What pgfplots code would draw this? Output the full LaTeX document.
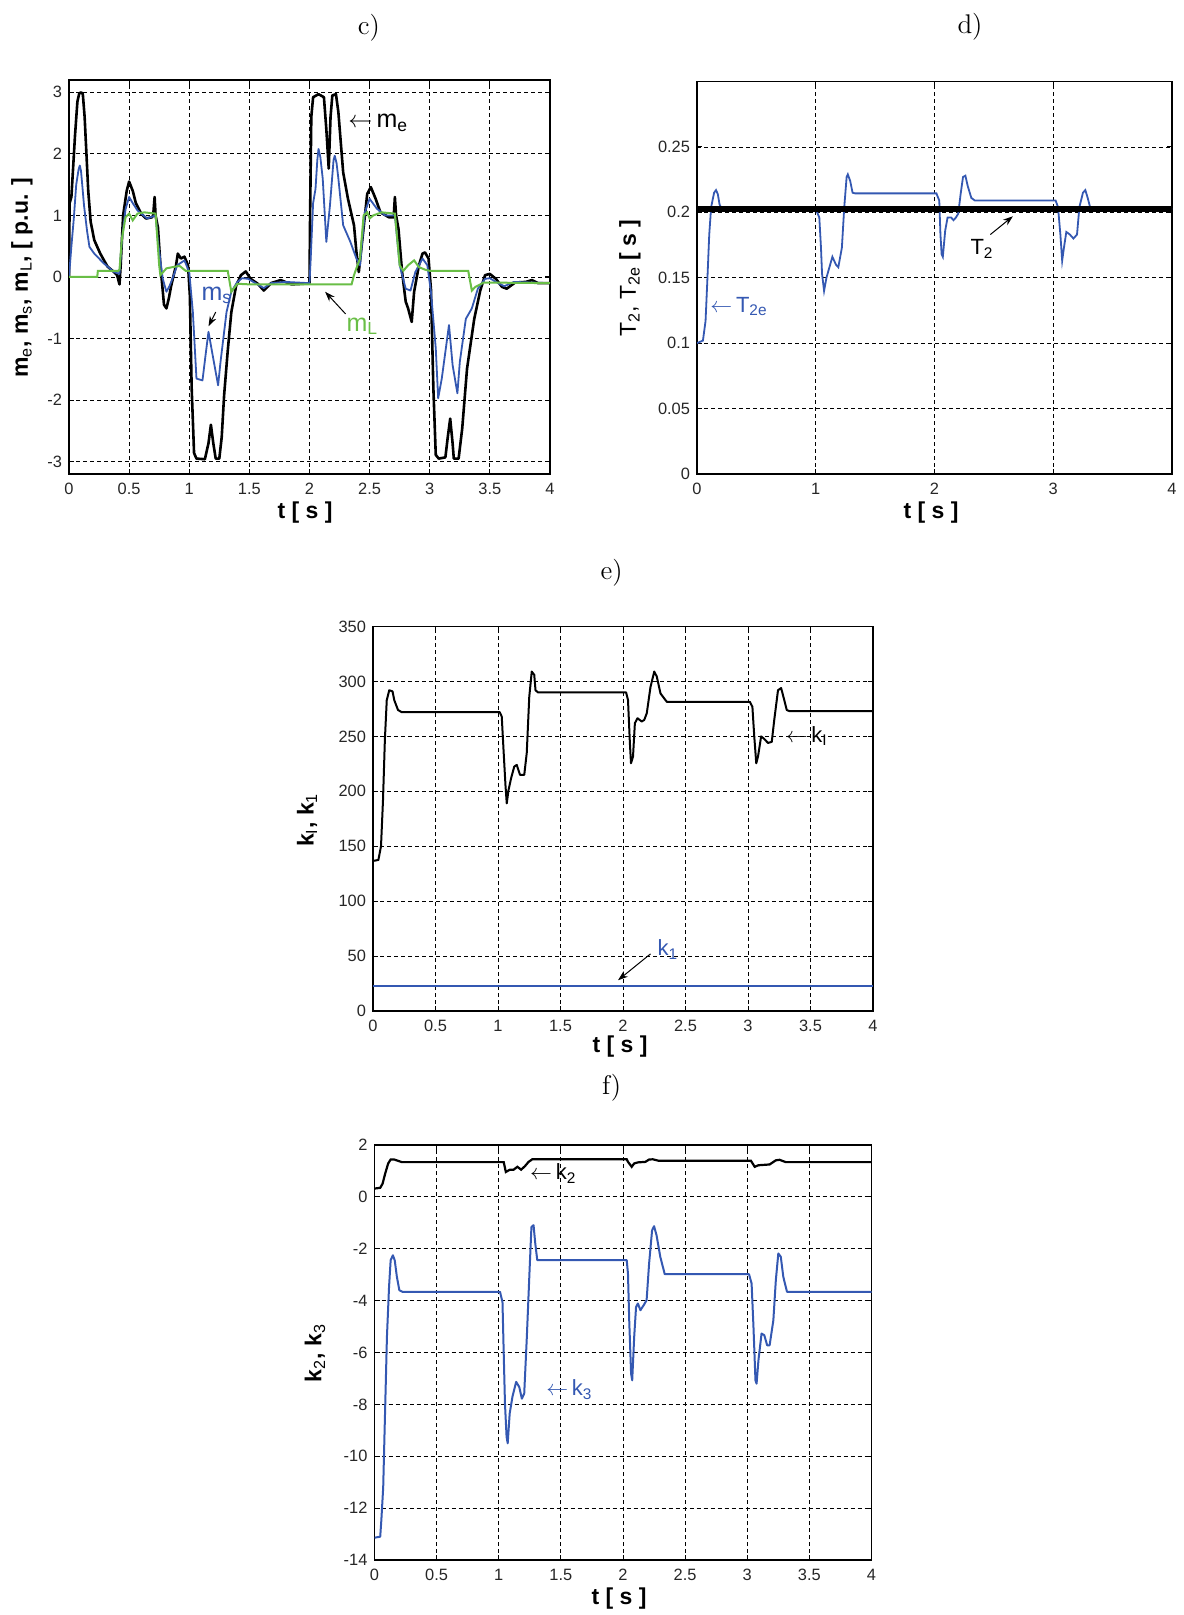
\documentclass[border=0pt]{standalone}
\usepackage{fontspec}
\setsansfont{Liberation Sans}
\usepackage{pgfplots}
\pgfplotsset{compat=1.18}
\usetikzlibrary{arrows.meta}
\definecolor{mblue}{RGB}{52,88,178}
\definecolor{mgreen}{RGB}{105,190,70}
\newcommand\tickfont{\sffamily\fontsize{8.2}{9}\selectfont}
\newcommand\labfont{\sffamily\bfseries\fontsize{11.5}{13}\selectfont}
\newcommand\annfont{\sffamily\fontsize{11}{12}\selectfont}
\newcommand\annfontc{\sffamily\fontsize{12.5}{13}\selectfont}
\newcommand\sub[1]{\textsubscript{\mdseries #1}}
\pgfplotsset{
  mat/.style={
    scale only axis, anchor=north west,
    xmin=0, xmax=4,
    grid=major,
    major grid style={black, dash pattern=on 2pt off 1.5pt, line width=0.4pt},
    axis line style={black, line width=0.6pt},
    tick style={black, line width=0.5pt},
    major tick length=2.5pt,
    ticklabel style={font=\tickfont, text=black!85},
    xticklabel style={yshift=-1pt},
    clip=true,
    axis background/.style={fill=white},
  }
}
\begin{document}
\begin{tikzpicture}
\path[use as bounding box] (0,0) rectangle (591.5pt,-807.5pt);

% ---------------- c) ----------------
\begin{axis}[mat, at={(34.5pt,-40pt)}, width=240.5pt, height=197pt,
  ymin=-3.2, ymax=3.2,
  xtick={0,0.5,1,1.5,2,2.5,3,3.5,4},
  xticklabels={0,0.5,1,1.5,2,2.5,3,3.5,4},
  ytick={-3,-2,-1,0,1,2,3},
  yticklabels={-3,-2,-1,0,1,2,3}]
\addplot[black, line width=1.3pt, line join=round] coordinates {
(0,0) (0.005,1.2) (0.02,1.3) (0.05,2.3) (0.07,2.85) (0.085,2.98) (0.1,3.0) (0.115,2.97) (0.13,2.6) (0.14,2.2) (0.16,1.4) (0.18,0.9) (0.21,0.6) (0.26,0.38) (0.32,0.17) (0.375,0.08) (0.40,0.03) (0.42,-0.12) (0.43,0.2) (0.45,1.0) (0.48,1.4) (0.50,1.55) (0.53,1.4) (0.556,1.2) (0.6,1.03) (0.64,0.95) (0.69,0.97) (0.70,1.0) (0.712,1.3) (0.72,1.0) (0.74,0.8) (0.76,0.2) (0.79,-0.45) (0.81,-0.51) (0.83,-0.35) (0.85,-0.14) (0.89,0.19) (0.905,0.38) (0.93,0.3) (0.96,0.33) (0.99,0.19) (1.005,-0.3) (1.02,-1.8) (1.04,-2.86) (1.06,-2.95) (1.13,-2.96) (1.16,-2.7) (1.18,-2.4) (1.20,-2.7) (1.22,-2.95) (1.25,-2.95) (1.27,-2.6) (1.29,-1.92) (1.32,-1.2) (1.35,-0.57) (1.39,-0.14) (1.43,0.03) (1.47,0.09) (1.51,-0.03) (1.57,-0.11) (1.62,-0.22) (1.68,-0.1) (1.76,-0.05) (1.85,-0.12) (1.95,-0.11) (2.0,-0.1) (2.005,1.0) (2.015,2.6) (2.03,2.92) (2.075,2.97) (2.12,2.92) (2.14,2.4) (2.16,1.76) (2.175,2.6) (2.19,2.95) (2.22,2.97) (2.24,2.68) (2.28,1.7) (2.32,1.27) (2.37,0.84) (2.39,0.41) (2.41,0.08) (2.44,0.62) (2.48,1.35) (2.51,1.46) (2.55,1.27) (2.59,1.05) (2.66,0.97) (2.70,0.97) (2.71,1.3) (2.72,1.0) (2.74,0.78) (2.77,0.08) (2.80,-0.4) (2.82,-0.51) (2.85,-0.73) (2.87,-0.24) (2.91,0.19) (2.94,0.38) (2.96,0.4) (2.99,0.3) (3.01,-0.2) (3.03,-1.8) (3.05,-2.89) (3.075,-2.95) (3.13,-2.93) (3.15,-2.6) (3.17,-2.3) (3.19,-2.7) (3.20,-2.95) (3.24,-2.95) (3.27,-2.46) (3.31,-1.49) (3.37,-0.68) (3.42,-0.22) (3.46,0.03) (3.50,0.05) (3.55,-0.03) (3.60,-0.16) (3.64,-0.19) (3.71,-0.09) (3.8,-0.08) (3.85,-0.05) (3.9,-0.1) (4.0,-0.1)
};
\addplot[mblue, line width=0.9pt, line join=round] coordinates {
(0,0) (0.02,0.5) (0.04,0.95) (0.06,1.5) (0.08,1.75) (0.09,1.81) (0.1,1.72) (0.11,1.5) (0.125,1.16) (0.15,0.75) (0.17,0.49) (0.21,0.38) (0.29,0.22) (0.375,0.08) (0.42,0.05) (0.44,0.6) (0.47,1.1) (0.50,1.3) (0.53,1.2) (0.57,1.08) (0.65,0.95) (0.72,1.0) (0.74,0.57) (0.78,-0.03) (0.81,-0.24) (0.835,-0.15) (0.86,-0.03) (0.9,0.19) (0.96,0.27) (1.0,0.08) (1.03,-0.57) (1.06,-1.65) (1.11,-1.68) (1.14,-1.2) (1.16,-0.89) (1.19,-1.22) (1.24,-1.76) (1.26,-1.38) (1.31,-0.57) (1.35,-0.24) (1.40,-0.08) (1.44,-0.02) (1.49,-0.03) (1.55,-0.1) (1.62,-0.18) (1.68,-0.1) (1.8,-0.08) (2.0,-0.1) (2.01,0.3) (2.03,1.2) (2.05,1.43) (2.065,1.9) (2.075,2.08) (2.09,1.95) (2.11,1.6) (2.14,0.57) (2.17,1.16) (2.2,1.9) (2.21,1.97) (2.225,1.85) (2.24,1.6) (2.28,0.84) (2.34,0.57) (2.39,0.3) (2.42,0.19) (2.46,1.05) (2.50,1.27) (2.56,1.11) (2.63,1.0) (2.71,1.0) (2.75,0.19) (2.80,-0.19) (2.84,-0.22) (2.88,0.08) (2.94,0.3) (2.98,0.19) (3.01,-0.24) (3.05,-1.16) (3.07,-1.97) (3.1,-1.65) (3.16,-0.78) (3.19,-1.43) (3.23,-1.89) (3.25,-1.38) (3.30,-0.68) (3.35,-0.51) (3.40,-0.19) (3.46,-0.03) (3.50,-0.02) (3.55,-0.08) (3.62,-0.15) (3.7,-0.08) (4.0,-0.1)
};
\addplot[mgreen, line width=1pt] coordinates {
(0,0) (0.235,0) (0.24,0.1) (0.41,0.1) (0.42,0.12) (0.44,0.62) (0.47,0.97) (0.5,1.03) (0.53,0.92) (0.57,1.03) (0.625,1.05) (0.72,1.03) (0.75,0.19) (0.76,0.03) (0.81,0.14) (0.86,0.16) (0.92,0.18) (0.97,0.1) (1.32,0.1) (1.35,-0.24) (1.40,-0.11) (1.5,-0.12) (2.35,-0.12) (2.37,0.03) (2.39,0.14) (2.42,0.3) (2.45,1.0) (2.48,1.05) (2.5,0.95) (2.53,1.0) (2.6,1.05) (2.71,1.03) (2.75,0.19) (2.78,0.1) (2.82,0.19) (2.87,0.27) (2.91,0.16) (2.96,0.12) (3.0,0.1) (3.32,0.1) (3.35,-0.22) (3.38,-0.16) (3.45,-0.09) (4.0,-0.1)
};
\node[anchor=west, inner sep=0pt, font=\annfontc] at (axis cs:2.32,2.5) {$\leftarrow$\,m\textsubscript{e}};
\node[inner sep=0pt, font=\annfontc, text=mblue] at (axis cs:1.23,-0.3) {m\textsubscript{s}};
\draw[black, line width=0.5pt, -{Stealth[length=5pt,width=3.5pt]}] (axis cs:1.22,-0.57) -- (axis cs:1.16,-0.8);
\node[inner sep=0pt, font=\annfontc, text=mgreen] at (axis cs:2.44,-0.8) {m\textsubscript{L}};
\draw[black, line width=0.5pt, -{Stealth[length=5pt,width=3.5pt]}] (axis cs:2.30,-0.6) -- (axis cs:2.13,-0.24);
\end{axis}

% ---------------- d) ----------------
\begin{axis}[mat, at={(348.5pt,-40.75pt)}, width=237.5pt, height=196.25pt,
  ymin=0, ymax=0.3,
  xtick={0,1,2,3,4}, xticklabels={0,1,2,3,4},
  ytick={0,0.05,0.1,0.15,0.2,0.25},
  yticklabels={0,0.05,0.1,0.15,0.2,0.25}]
\addplot[mblue, line width=0.9pt] coordinates {
(0,0.1) (0.05,0.102) (0.072,0.117) (0.088,0.15) (0.103,0.183) (0.119,0.204) (0.144,0.215) (0.16,0.217) (0.175,0.214) (0.19,0.206) (0.21,0.2025) (1.0,0.2025) (1.03,0.196) (1.044,0.173) (1.053,0.153) (1.07,0.14) (1.09,0.15) (1.14,0.166) (1.17,0.16) (1.19,0.158) (1.22,0.173) (1.24,0.204) (1.26,0.227) (1.27,0.229) (1.29,0.224) (1.31,0.215) (1.33,0.2145) (2.016,0.2145) (2.04,0.209) (2.05,0.183) (2.06,0.168) (2.07,0.166) (2.09,0.186) (2.11,0.196) (2.14,0.196) (2.16,0.194) (2.18,0.196) (2.2,0.199) (2.22,0.214) (2.24,0.227) (2.26,0.228) (2.28,0.22) (2.31,0.211) (2.34,0.209) (3.02,0.209) (3.04,0.204) (3.06,0.183) (3.075,0.163) (3.09,0.173) (3.11,0.185) (3.14,0.183) (3.17,0.18) (3.2,0.183) (3.22,0.204) (3.25,0.215) (3.27,0.217) (3.29,0.211) (3.31,0.204) (3.33,0.2025) (4,0.2025)
};
\addplot[black, line width=2.8pt, line cap=butt] coordinates {(0,0.2025) (4,0.2025)};
\node[inner sep=0pt, font=\annfont] at (axis cs:2.40,0.172) {T\textsubscript{2}};
\draw[black, line width=0.5pt, -{Stealth[length=5pt,width=3.5pt]}] (axis cs:2.47,0.183) -- (axis cs:2.66,0.197);
\node[anchor=west, inner sep=0pt, font=\annfont, text=mblue] at (axis cs:0.11,0.128) {$\leftarrow$\,T\textsubscript{2e}};
\end{axis}

% ---------------- e) ----------------
\begin{axis}[mat, at={(186.5pt,-313.25pt)}, width=250pt, height=192.25pt,
  ymin=0, ymax=350,
  xtick={0,0.5,1,1.5,2,2.5,3,3.5,4},
  xticklabels={0,0.5,1,1.5,2,2.5,3,3.5,4},
  ytick={0,50,100,150,200,250,300,350},
  yticklabels={0,50,100,150,200,250,300,350}]
\addplot[black, line width=1pt, line join=round] coordinates {
(0,136.6) (0.043,137.5) (0.064,150) (0.08,192) (0.095,247) (0.11,283) (0.13,292) (0.156,291) (0.17,283) (0.2,274) (0.23,272) (1.014,272) (1.03,268) (1.044,238) (1.06,205) (1.07,189) (1.084,201) (1.105,212) (1.13,222.5) (1.15,224) (1.176,215) (1.21,215) (1.23,235) (1.25,286) (1.27,309) (1.29,306) (1.3,292) (1.32,290) (2.025,290) (2.04,283) (2.055,244) (2.064,225.5) (2.08,231.6) (2.095,262) (2.116,266.5) (2.15,263.5) (2.17,265) (2.19,271) (2.22,295) (2.25,309) (2.27,304.5) (2.3,289) (2.35,281.5) (3.014,281.5) (3.035,277) (3.05,250) (3.066,225.5) (3.08,231.6) (3.105,250) (3.127,248) (3.16,244) (3.19,245) (3.21,265) (3.24,292) (3.265,294) (3.29,283) (3.31,274) (3.33,273) (4,273)
};
\addplot[mblue, line width=1.2pt] coordinates {(0,23) (4,23)};
\node[anchor=west, inner sep=0pt, font=\annfont] at (axis cs:3.3,250) {$\leftarrow$\,k\textsubscript{I}};
\node[inner sep=0pt, font=\annfont, text=mblue] at (axis cs:2.36,56) {k\textsubscript{1}};
\draw[black, line width=0.5pt, -{Stealth[length=5pt,width=3.5pt]}] (axis cs:2.22,52) -- (axis cs:1.96,28);
\end{axis}

% ---------------- f) ----------------
\begin{axis}[mat, at={(187.25pt,-572.5pt)}, width=248.5pt, height=207.5pt,
  ymin=-14, ymax=2,
  xtick={0,0.5,1,1.5,2,2.5,3,3.5,4},
  xticklabels={0,0.5,1,1.5,2,2.5,3,3.5,4},
  ytick={-14,-12,-10,-8,-6,-4,-2,0,2},
  yticklabels={-14,-12,-10,-8,-6,-4,-2,0,2}]
\addplot[black, line width=1.1pt] coordinates {
(0,0.32) (0.046,0.35) (0.065,0.51) (0.086,0.9) (0.11,1.29) (0.13,1.44) (0.16,1.44) (0.19,1.39) (0.22,1.34) (1.04,1.34) (1.057,0.96) (1.09,1.05) (1.12,1.05) (1.15,1.16) (1.18,1.05) (1.21,1.18) (1.24,1.35) (1.27,1.45) (2.03,1.45) (2.04,1.35) (2.07,1.16) (2.09,1.29) (2.12,1.33) (2.18,1.35) (2.21,1.44) (2.24,1.45) (2.29,1.39) (3.03,1.39) (3.06,1.16) (3.09,1.22) (3.18,1.25) (3.23,1.41) (3.26,1.43) (3.31,1.34) (4,1.34)
};
\addplot[mblue, line width=1pt, line join=round] coordinates {
(0,-13.14) (0.046,-13.1) (0.055,-12.47) (0.07,-11.2) (0.08,-9.25) (0.09,-7.33) (0.1,-5.4) (0.117,-3.47) (0.13,-2.44) (0.148,-2.25) (0.163,-2.45) (0.18,-3.08) (0.2,-3.6) (0.225,-3.66) (1.01,-3.66) (1.03,-4.05) (1.04,-6.04) (1.05,-7.97) (1.063,-9.25) (1.072,-9.5) (1.088,-8.35) (1.11,-7.71) (1.14,-7.13) (1.165,-7.33) (1.186,-7.78) (1.205,-7.58) (1.226,-5.4) (1.248,-2.83) (1.263,-1.16) (1.28,-1.09) (1.294,-1.8) (1.31,-2.44) (2.03,-2.44) (2.04,-2.96) (2.05,-4.76) (2.065,-6.81) (2.074,-7.07) (2.09,-5.4) (2.105,-4.24) (2.12,-4.11) (2.14,-4.37) (2.166,-4.18) (2.19,-3.98) (2.21,-2.57) (2.234,-1.29) (2.25,-1.13) (2.27,-1.48) (2.3,-2.31) (2.336,-2.98) (3.014,-2.98) (3.035,-3.34) (3.05,-5.01) (3.066,-7.07) (3.075,-7.2) (3.09,-6.3) (3.115,-5.27) (3.137,-5.33) (3.16,-5.72) (3.18,-5.72) (3.21,-4.76) (3.23,-3.21) (3.25,-2.18) (3.27,-2.31) (3.29,-3.08) (3.32,-3.66) (4,-3.66)
};
\node[anchor=west, inner sep=0pt, font=\annfont] at (axis cs:1.25,0.9) {$\leftarrow$\,k\textsubscript{2}};
\node[anchor=west, inner sep=0pt, font=\annfont, text=mblue] at (axis cs:1.38,-7.43) {$\leftarrow$\,k\textsubscript{3}};
\end{axis}

% titles
\node[font=\fontsize{13.5}{15}\selectfont] at (184.5pt,-14pt) {c)};
\node[font=\fontsize{13.5}{15}\selectfont] at (485pt,-13.5pt) {d)};
\node[font=\fontsize{13.5}{15}\selectfont] at (305.8pt,-286.25pt) {e)};
\node[font=\fontsize{13.5}{15}\selectfont] at (305.8pt,-544pt) {f)};
% x labels
\node[font=\labfont] at (152.5pt,-256.5pt) {t [ s ]};
\node[font=\labfont] at (465.5pt,-256.5pt) {t [ s ]};
\node[font=\labfont] at (310pt,-523.5pt) {t [ s ]};
\node[font=\labfont] at (309.5pt,-799.5pt) {t [ s ]};
% y labels
\node[font=\labfont, rotate=90] at (11pt,-139pt) {m\sub{e}, m\sub{s}, m\sub{L}, [ p.u. ]};
\node[font=\labfont, rotate=90] at (315pt,-139pt) {{\mdseries T\textsubscript{2}, T\textsubscript{2e}} [ s ]};
\node[font=\labfont, rotate=90] at (153.5pt,-410pt) {k\sub{I}, k\sub{1}};
\node[font=\labfont, rotate=90] at (157.5pt,-676.5pt) {k\sub{2}, k\sub{3}};
\end{tikzpicture}
\end{document}
